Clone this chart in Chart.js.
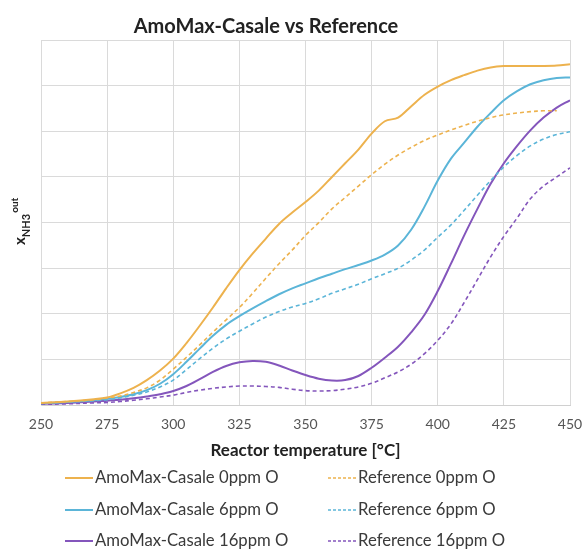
<!DOCTYPE html>
<html>
<head>
<meta charset="utf-8">
<script src="https://cdn.jsdelivr.net/npm/chart.js@4.4.1/dist/chart.umd.min.js"></script>
<style>
  html, body { margin: 0; padding: 0; background: #fff; }
  #wrap { width: 586px; height: 549px; position: relative; }
</style>
</head>
<body>
<div id="wrap"><canvas id="c" width="586" height="549"></canvas></div>
<script>
// ---- data (values in y-gridline units, 0..8) ----
const temps = [250,260,270,275,280,285,290,295,300,305,310,315,320,325,330,335,340,345,350,355,360,365,370,375,380,385,390,395,400,405,410,415,420,425,430,435,440,445,450];

const amo0ppm  = [0.05,0.08,0.13,0.17,0.26,0.38,0.55,0.76,1.02,1.36,1.74,2.14,2.56,2.96,3.32,3.65,3.97,4.22,4.45,4.70,5.00,5.30,5.60,5.95,6.22,6.30,6.55,6.80,6.98,7.12,7.23,7.33,7.40,7.43,7.43,7.43,7.43,7.44,7.47];
const ref0ppm  = [0.05,0.08,0.12,0.16,0.20,0.28,0.38,0.55,0.79,1.05,1.32,1.60,1.87,2.14,2.45,2.78,3.10,3.40,3.72,4.00,4.30,4.55,4.80,5.05,5.28,5.48,5.65,5.80,5.92,6.03,6.13,6.22,6.30,6.36,6.40,6.43,6.45,6.45,null];
const amo6ppm  = [0.04,0.07,0.11,0.14,0.18,0.24,0.33,0.47,0.68,0.95,1.24,1.52,1.76,1.95,2.12,2.28,2.43,2.56,2.67,2.78,2.88,2.98,3.07,3.17,3.30,3.50,3.85,4.35,4.92,5.40,5.75,6.10,6.40,6.68,6.88,7.03,7.12,7.17,7.18];
const ref6ppm  = [0.04,0.07,0.10,0.12,0.16,0.22,0.29,0.40,0.55,0.78,1.02,1.25,1.45,1.62,1.78,1.93,2.05,2.15,2.23,2.33,2.45,2.55,2.65,2.77,2.88,3.00,3.18,3.40,3.68,3.95,4.27,4.60,4.92,5.22,5.47,5.68,5.83,5.93,5.99];
const amo16ppm = [0.03,0.05,0.08,0.10,0.12,0.15,0.19,0.24,0.31,0.42,0.57,0.73,0.86,0.94,0.97,0.95,0.87,0.76,0.66,0.58,0.54,0.55,0.64,0.82,1.04,1.28,1.60,1.98,2.50,3.10,3.72,4.30,4.85,5.30,5.68,6.02,6.30,6.52,6.68];
const ref16ppm = [0.02,0.03,0.05,0.06,0.08,0.11,0.14,0.18,0.22,0.28,0.33,0.37,0.40,0.42,0.42,0.41,0.39,0.35,0.32,0.31,0.32,0.35,0.40,0.48,0.60,0.73,0.90,1.13,1.42,1.78,2.25,2.75,3.25,3.70,4.10,4.52,4.80,5.00,5.20];

const seriesNames = ["AmoMax-Casale 0ppm O","Reference 0ppm O","AmoMax-Casale 6ppm O","Reference 6ppm O","AmoMax-Casale 16ppm O","Reference 16ppm O"];
const xTicks = [250,275,300,325,350,375,400,425,450];
const chartTitle = 'AmoMax-Casale vs Reference';

const GOLD = '#EDB24E', BLUE = '#5BB5D8', PURPLE = '#8456BC';
const FONT = 'Lato, "Open Sans", sans-serif';

function pts(vals){ return temps.map((t,i)=>({x:t, y:vals[i]})); }
function ds(label, vals, color, dashed){
  return { label, data: pts(vals), borderColor: color, backgroundColor: color,
    borderWidth: dashed ? 1.6 : 2, borderDash: dashed ? [4,3] : [], pointRadius: 0,
    tension: 0.35, fill: false, spanGaps: false, dashed };
}

const datasets = [
  ds(seriesNames[0], amo0ppm, GOLD, false),
  ds(seriesNames[1], ref0ppm, GOLD, true),
  ds(seriesNames[2], amo6ppm, BLUE, false),
  ds(seriesNames[3], ref6ppm, BLUE, true),
  ds(seriesNames[4], amo16ppm, PURPLE, false),
  ds(seriesNames[5], ref16ppm, PURPLE, true)
];

// title, y-axis label with subscript/superscript, custom 2-column legend
const extras = {
  id: 'extras',
  afterDraw(chart){
    const ctx = chart.ctx;
    ctx.save();
    ctx.fillStyle = '#222';
    ctx.font = 'bold 20px ' + FONT;
    ctx.textAlign = 'center';
    ctx.textBaseline = 'middle';
    ctx.fillText(chartTitle, 266, 27);
    ctx.restore();

    ctx.save();
    ctx.translate(25, 245);
    ctx.rotate(-Math.PI/2);
    ctx.fillStyle = '#222';
    ctx.textBaseline = 'alphabetic';
    ctx.textAlign = 'left';
    ctx.font = 'bold 15px ' + FONT;
    ctx.fillText('x', 0, 0);
    let w = ctx.measureText('x').width;
    ctx.font = 'bold 11px ' + FONT;
    ctx.fillText('NH3', w, 5);
    w += ctx.measureText('NH3').width + 1;
    ctx.font = 'bold 10px ' + FONT;
    ctx.fillText('out', w, -7);
    ctx.restore();

    ctx.save();
    const rows = [478, 510, 541];
    const cols = [{lx:65, tx:95}, {lx:328, tx:358}];
    ctx.font = '16.7px ' + FONT;
    ctx.textBaseline = 'middle';
    ctx.textAlign = 'left';
    chart.data.datasets.forEach((d,i)=>{
      const r = rows[Math.floor(i/2)], c = cols[i%2];
      ctx.strokeStyle = d.borderColor;
      ctx.lineWidth = d.dashed ? 1.6 : 2;
      ctx.setLineDash(d.dashed ? [3,2] : []);
      ctx.beginPath(); ctx.moveTo(c.lx, r); ctx.lineTo(c.tx - 2, r); ctx.stroke();
      ctx.fillStyle = '#3a3a3a';
      ctx.fillText(d.label, c.tx, r);
    });
    ctx.restore();
  }
};

new Chart(document.getElementById('c'), {
  type: 'line',
  data: { datasets },
  options: {
    responsive: false,
    animation: false,
    layout: { padding: { left: 0, right: 0, top: 40, bottom: 84.6 } },
    plugins: {
      legend: { display: false },
      tooltip: { enabled: false },
      title: { display: false }
    },
    scales: {
      x: {
        type: 'linear', min: 250, max: 450,
        afterBuildTicks: (s) => { s.ticks = xTicks.map(v => ({value: v})); },
        afterFit: (s) => { s.paddingRight = 16; s.paddingLeft = 0; },
        ticks: { color: '#555', font: { family: FONT, size: 14 }, padding: 11, maxRotation: 0 },
        grid: { color: '#DADADA', lineWidth: 1, drawTicks: false },
        border: { color: '#D0D0D0' },
        title: { display: true, text: 'Reactor temperature [°C]', color: '#222',
          font: { family: FONT, size: 17, weight: 'bold' }, padding: { top: -4, bottom: 4 } }
      },
      y: {
        min: 0, max: 8,
        ticks: { stepSize: 1, display: false },
        grid: { color: '#DADADA', lineWidth: 1, drawTicks: false },
        border: { color: '#DADADA' },
        afterFit: (s) => { s.width = 41; }
      }
    }
  },
  plugins: [extras]
});
</script>
</body>
</html>
